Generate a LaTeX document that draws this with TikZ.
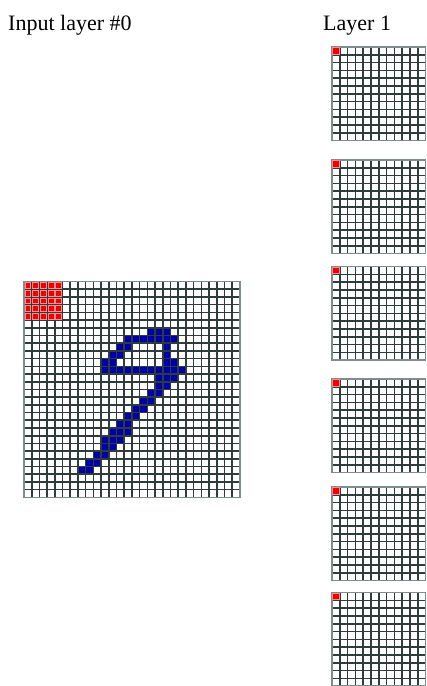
\documentclass[tikz,border=0pt]{standalone}
\usepackage{fontspec}
\setmainfont{Liberation Serif}
\usepackage{xcolor}
\usetikzlibrary{positioning}
\definecolor{gridline}{HTML}{2E3C3C}
\definecolor{gridedge}{HTML}{7E8C8C}
\definecolor{inkblue}{HTML}{0000A8}
\definecolor{hotred}{HTML}{F00000}

\begin{document}
\begin{tikzpicture}[x=1pt,y=-1pt,
    lbl/.style={font=\fontsize{22}{24}\selectfont,inner sep=0pt,anchor=base west},
    cellgrid/.style={draw=gridline,line width=1.6pt},
    celledge/.style={draw=gridedge,line width=1.6pt},
    inkcell/.style={fill=inkblue},
    kernelcell/.style={fill=hotred,draw=red!45!white,line width=0.6pt}]
  \useasboundingbox (0,0) rectangle (427,686);
  \node[lbl] (inlabel) at (8,30) {Input layer \#0};
  \node[lbl] (l1label) at (323,30) {Layer 1};
  % input digit, 28x28
  \begin{scope}[shift={(24,281.5)},x=7.71pt,y=-7.71pt]
    \foreach \r/\cs in {6/{16,17,18},7/{13,14,15,16,17,18,19},8/{12,13,18},
        9/{11,12,18},10/{10,11,18,19},11/{10,11,12,13,14,15,16,17,18,19,20},
        12/{17,18,19},13/{17,18},14/{16,17},15/{15,16},16/{14,15},17/{13,14},
        18/{12,13},19/{11,12,13},20/{10,11,12},21/{10,11},22/{9,10},
        23/{8,9},24/{7,8}}
      \foreach \c in \cs
        \path[inkcell] (\c,\r) rectangle ++(1,1);
    \foreach \i in {1,...,27}{
      \draw[cellgrid] (\i,0) -- (\i,28);
      \draw[cellgrid] (0,\i) -- (28,\i);
    }
    \draw[celledge] (0,0) rectangle (28,28);
    \foreach \r in {0,...,4}
      \foreach \c in {0,...,4}
        \path[kernelcell] (\c+0.12,\r+0.12) rectangle ++(0.76,0.76);
  \end{scope}
  % layer 1 feature maps, 12x12
  \foreach \t in {47,160,266.5,379,487,592.5}{
    \begin{scope}[shift={(332,\t)},x=7.8pt,y=-7.8pt]
      \foreach \i in {1,...,11}{
        \draw[cellgrid] (\i,0) -- (\i,12);
        \draw[cellgrid] (0,\i) -- (12,\i);
      }
      \draw[celledge] (0,0) rectangle (12,12);
      \path[kernelcell] (0.1,0.1) rectangle ++(0.8,0.8);
    \end{scope}
  }
\end{tikzpicture}
\end{document}
